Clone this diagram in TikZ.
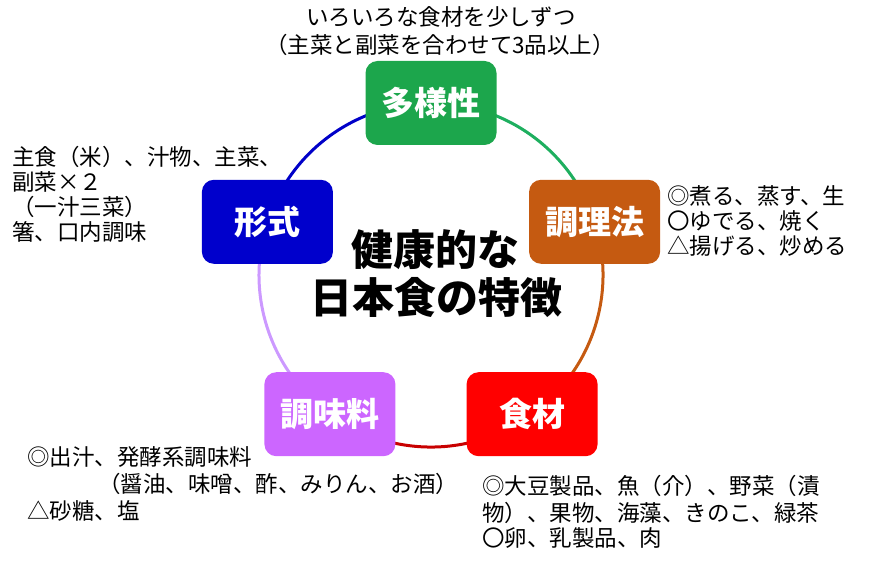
\documentclass[tikz,border=0pt]{standalone}
\usepackage{fontspec}
\usetikzlibrary{backgrounds}
\newfontfamily\cjk{Noto Sans CJK JP}
\definecolor{cgreen}{RGB}{28,166,76}
\definecolor{corange}{RGB}{197,90,17}
\definecolor{cred}{RGB}{255,0,0}
\definecolor{cpurple}{RGB}{204,102,255}
\definecolor{cblue}{RGB}{0,0,204}
\definecolor{lgreen}{RGB}{30,175,95}
\definecolor{lorange}{RGB}{197,90,17}
\definecolor{lred}{RGB}{200,0,0}
\definecolor{lpurple}{RGB}{204,153,255}
\definecolor{lblue}{RGB}{0,0,200}
\begin{document}
\begin{tikzpicture}[x=1pt,y=-1pt,
  box/.style={rounded corners=12pt, minimum width=131pt, minimum height=84pt, inner sep=0pt,
    text=white, font=\cjk\bfseries\fontsize{33}{33}\selectfont},
  ann/.style={inner sep=0pt, anchor=base west, font=\cjk\fontsize{22.5}{27}\selectfont},
  annc/.style={ann, anchor=base},
  title/.style={inner sep=0pt, anchor=base, font=\cjk\bfseries\fontsize{42}{48}\selectfont},
  arcline/.style={line width=3pt}]
\useasboundingbox (0,0) rectangle (879,564);
% boxes on pentagon of circle centre (431,275), r=172
\node[box, fill=cgreen]  (dy) at (431,103) {多様性};
\node[box, fill=corange] (ch) at (594.6,221.8) {調理法};
\node[box, fill=cred]    (sz) at (532.1,414.2) {食材};
\node[box, fill=cpurple] (cm) at (329.9,414.2) {調味料};
\node[box, fill=cblue]   (kk) at (267.4,221.8) {形式};
\begin{scope}[on background layer]
\draw[arcline, lgreen]  (dy.center) arc[start angle=90,   end angle=18,   radius=172pt];
\draw[arcline, lorange] (ch.center) arc[start angle=18,   end angle=-54,  radius=172pt];
\draw[arcline, lred]    (sz.center) arc[start angle=-54,  end angle=-126, radius=172pt];
\draw[arcline, lpurple] (cm.center) arc[start angle=-126, end angle=-198, radius=172pt];
\draw[arcline, lblue]   (kk.center) arc[start angle=-198, end angle=-270, radius=172pt];
\end{scope}
% centre title
\node[title] (ti1) at (435,266) {健康的な};
\node[title] (ti2) at (436,314) {日本食の特徴};
% top
\node[annc] (t1) at (441,25.5) {いろいろな食材を少しずつ};
\node[annc] (t2) at (440,53.5) {（主菜と副菜を合わせて3品以上）};
% left
\node[ann] (l1) at (12,165.5) {主食（米）、汁物、主菜、};
\node[ann] (l2) at (12,190.5) {副菜×２};
\node[ann] (l3) at (12,215.5) {（一汁三菜）};
\node[ann] (l4) at (12,240.5) {箸、口内調味};
% right
\node[ann] (r1) at (667,204.5) {◎煮る、蒸す、生};
\node[ann] (r2) at (667,229.5) {〇ゆでる、焼く};
\node[ann] (r3) at (667,254.5) {△揚げる、炒める};
% bottom left
\node[ann] (b1) at (27,465.5) {◎出汁、発酵系調味料};
\node[ann] (b2) at (98,492.5) {（醤油、味噌、酢、みりん、お酒）};
\node[ann] (b3) at (27,519.5) {△砂糖、塩};
% bottom right
\node[ann] (s1) at (482,494.5) {◎大豆製品、魚（介）、野菜（漬};
\node[ann] (s2) at (482,521) {物）、果物、海藻、きのこ、緑茶};
\node[ann] (s3) at (482,546.5) {〇卵、乳製品、肉};
\end{tikzpicture}
\end{document}
